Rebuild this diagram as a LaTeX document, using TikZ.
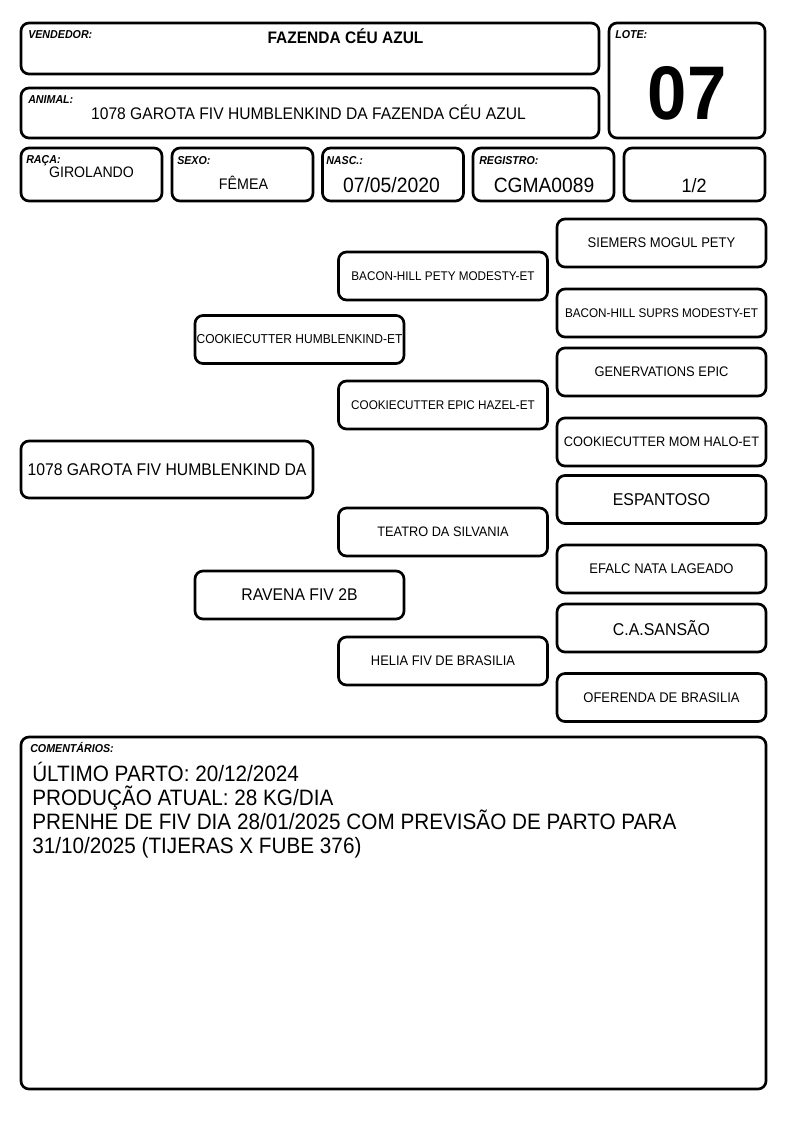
\documentclass[tikz,border=0pt]{standalone}
\usepackage{fontspec}
\setmainfont[FakeStretch=0.93]{Liberation Sans}
\begin{document}
\begin{tikzpicture}[x=0.75pt,y=-0.75pt,
  box/.style={draw, line width=2pt, rounded corners=6pt, inner sep=0pt},
  ped/.style={box, minimum width=156.75pt, minimum height=36pt, align=center},
  lbl/.style={anchor=base west, inner sep=0pt, font=\fontsize{8.6}{9}\selectfont\bfseries\itshape},
  val/.style={anchor=base, inner sep=0pt},
  fs/.style={font=\fontsize{#1}{#1}\selectfont},
  comtxt/.style={anchor=base west, inner sep=0pt, font=\fontsize{16.7}{18}\selectfont}]
\fill[white] (0,0) rectangle (794,1123);
\useasboundingbox (0,0) rectangle (794,1123);
% header boxes
\node[box, minimum width=433.5pt, minimum height=38.25pt] (vend) at (310,48.5) {};
\node[box, minimum width=117pt, minimum height=86.25pt] (lote) at (687,80.5) {};
\node[box, minimum width=433.5pt, minimum height=37.5pt] (anim) at (310,113) {};
\node[box, minimum width=105.75pt, minimum height=39.75pt] (raca) at (91.5,174.5) {};
\node[box, minimum width=105.75pt, minimum height=39.75pt] (sexo) at (242.5,174.5) {};
\node[box, minimum width=105.75pt, minimum height=39.75pt] (nasc) at (393,174.5) {};
\node[box, minimum width=105.75pt, minimum height=39.75pt] (reg) at (543.5,174.5) {};
\node[box, minimum width=105.75pt, minimum height=39.75pt] (frac) at (694.5,174.5) {};
% header texts
\node[lbl] (vendL) at (28,39) {VENDEDOR:};
\node[val, font=\fontsize{12.5}{14}\selectfont\bfseries] (vendV) at (345.5,44) {FAZENDA CÉU AZUL};
\node[lbl] (animL) at (28,104) {ANIMAL:};
\node[val, fs=12.6] (animV) at (308.5,120) {1078 GAROTA FIV HUMBLENKIND DA FAZENDA CÉU AZUL};
\node[lbl] (loteL) at (615,39) {LOTE:};
\node[val, font=\fontsize{57}{60}\selectfont\bfseries] (loteV) at (687,120) {07};
\node[lbl] (racaL) at (26,164) {RAÇA:};
\node[val, fs=11.4] (racaV) at (91.5,178) {GIROLANDO};
\node[lbl] (sexoL) at (177,165) {SEXO:};
\node[val, fs=11.5] (sexoV) at (243.5,190) {FÊMEA};
\node[lbl] (nascL) at (326,165) {NASC.:};
\node[val, fs=15.6] (nascV) at (391.5,193) {07/05/2020};
\node[lbl] (regL) at (479,165) {REGISTRO:};
\node[val, fs=15.5] (regV) at (544,193) {CGMA0089};
\node[val, fs=14.5] (fracV) at (694,193) {1/2};
% pedigree
\node[box, minimum width=219pt, minimum height=42.75pt, fs=12.7] (p0) at (167,469.5) {1078 GAROTA FIV HUMBLENKIND DA};
\node[ped, fs=9.7] (p1a) at (299.5,339.5) {COOKIECUTTER HUMBLENKIND-ET};
\node[ped, fs=12.7] (p1b) at (299.5,595) {RAVENA FIV 2B};
\node[ped, fs=9.45] (p2a) at (443,276) {BACON-HILL PETY MODESTY-ET};
\node[ped, fs=9.45] (p2b) at (443,405) {COOKIECUTTER EPIC HAZEL-ET};
\node[ped, fs=10.3] (p2c) at (443,532) {TEATRO DA SILVANIA};
\node[ped, fs=10.4] (p2d) at (443,661) {HELIA FIV DE BRASILIA};
\node[ped, fs=10.5] (p3a) at (661.5,243) {SIEMERS MOGUL PETY};
\node[ped, fs=9.45] (p3b) at (661.5,313) {BACON-HILL SUPRS MODESTY-ET};
\node[ped, fs=10.4] (p3c) at (661.5,372) {GENERVATIONS EPIC};
\node[ped, fs=10.3] (p3d) at (661.5,442) {COOKIECUTTER MOM HALO-ET};
\node[ped, fs=12.8] (p3e) at (661.5,499.5) {ESPANTOSO};
\node[ped, fs=10.5] (p3f) at (661.5,569) {EFALC NATA LAGEADO};
\node[ped, fs=12.8] (p3g) at (661.5,628) {C.A.SANSÃO};
\node[ped, fs=10.5] (p3h) at (661.5,697.5) {OFERENDA DE BRASILIA};
% comments
\node[box, minimum width=558.75pt, minimum height=264pt] (com) at (393.5,913) {};
\node[lbl] (comL) at (30,752) {COMENTÁRIOS:};
\node[comtxt] (c1) at (32,781) {ÚLTIMO PARTO: 20/12/2024};
\node[comtxt] (c2) at (32,805) {PRODUÇÃO ATUAL: 28 KG/DIA};
\node[comtxt] (c3) at (32,829) {PRENHE DE FIV DIA 28/01/2025 COM PREVISÃO DE PARTO PARA};
\node[comtxt] (c4) at (32,853) {31/10/2025 (TIJERAS X FUBE 376)};
\end{tikzpicture}
\end{document}
